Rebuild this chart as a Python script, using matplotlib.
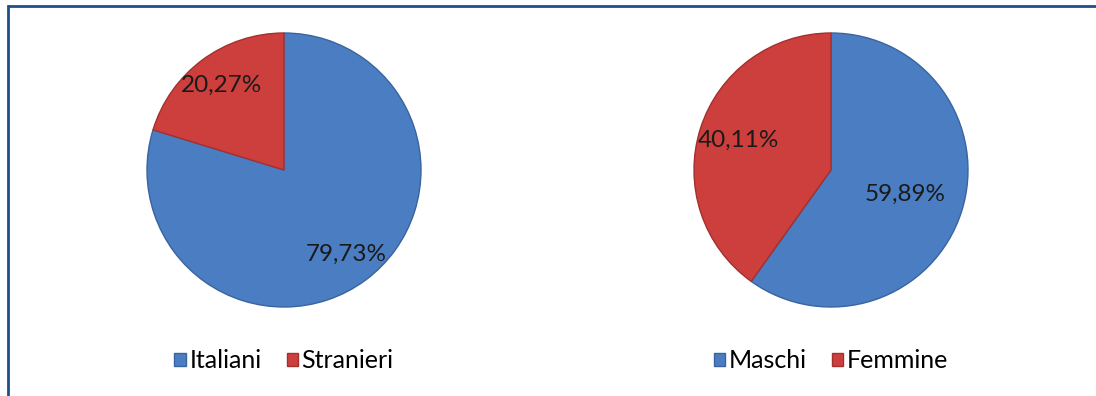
import numpy as np
import matplotlib
matplotlib.use("Agg")
import matplotlib.pyplot as plt
from matplotlib.lines import Line2D

plt.rcParams['font.family'] = ['Lato', 'DejaVu Sans']

# data
labels_left = ['Italiani', 'Stranieri']
values_left = [79.73, 20.27]
labels_right = ['Maschi', 'Femmine']
values_right = [59.89, 40.11]
pct_left = ['79,73%', '20,27%']
pct_right = ['59,89%', '40,11%']

BLUE = '#4A7DC2'
RED = '#CC3F3C'
colors = [BLUE, RED]
edges = ['#3A649E', '#A3302E']

W, H = 1096, 396
fig = plt.figure(figsize=(W / 100, H / 100), dpi=100)


def draw_pie(cx, cy, r, values, labels, pcts, dists):
    ax = fig.add_axes([(cx - r) / W, (H - cy - r) / H, 2 * r / W, 2 * r / H])
    wedges, _ = ax.pie(values, colors=colors, startangle=90, counterclock=False,
                       radius=1.0, wedgeprops=dict(linewidth=1.0))
    for w, ec in zip(wedges, edges):
        w.set_edgecolor(ec)
    for w, txt, d in zip(wedges, pcts, dists):
        mid = np.deg2rad((w.theta1 + w.theta2) / 2)
        ax.text(d * np.cos(mid), d * np.sin(mid), txt, ha='center', va='center',
                fontsize=17.5, color='#1a1a1a')
    ax.set_xlim(-1, 1)
    ax.set_ylim(-1, 1)
    ax.set_aspect('equal')
    ax.axis('off')
    fig.legend(wedges, labels, loc='center', bbox_to_anchor=(cx / W, (H - 361) / H),
               ncol=2, frameon=False, fontsize=18, handlelength=0.45, handleheight=0.45,
               handletextpad=0.15, columnspacing=1.0, borderaxespad=0, borderpad=0)


draw_pie(284, 170, 137, values_left, labels_left, pct_left, [0.77, 0.77])
draw_pie(831, 170, 137, values_right, labels_right, pct_right, [0.57, 0.71])

# frame lines (top and left)
fig.add_artist(Line2D([7.5 / W, 1], [1 - 5.5 / H, 1 - 5.5 / H], transform=fig.transFigure,
                      color='#1F4E8C', linewidth=2.0, solid_capstyle='butt'))
fig.add_artist(Line2D([7.5 / W, 7.5 / W], [0, 1 - 5.5 / H], transform=fig.transFigure,
                      color='#1F4E8C', linewidth=2.0, solid_capstyle='projecting'))

fig.savefig('out.png', dpi=100)
